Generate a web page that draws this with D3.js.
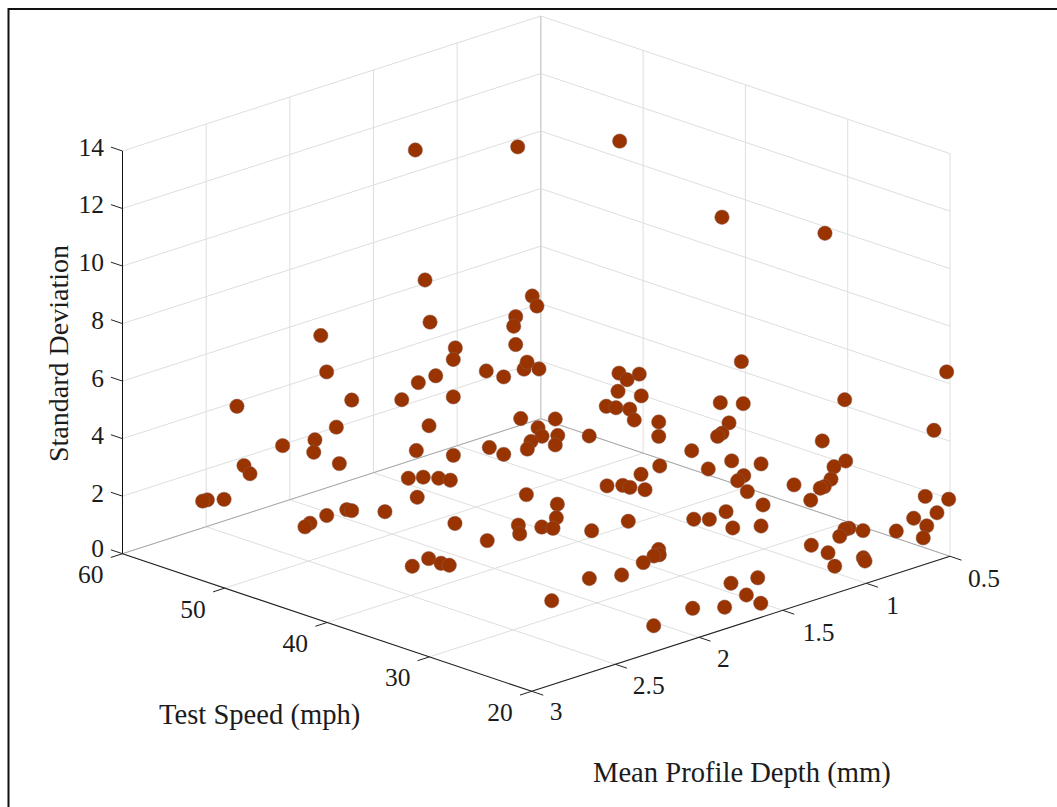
<!DOCTYPE html>
<html><head><meta charset="utf-8">
<style>html,body{margin:0;padding:0;background:#fff}svg{display:block}text{font-family:"Liberation Serif","Times New Roman",serif;fill:#1c1c1c}</style>
<script src="https://cdn.jsdelivr.net/npm/d3@7/dist/d3.min.js"></script>
</head><body><svg id="c" width="1057" height="807"></svg>
<script>
const speedTicks=[60,50,40,30,20];
const depthTicks=[3,2.5,2,1.5,1,0.5];
const depthLabels=["3","2.5","2","1.5","1","0.5"];
const sdTicks=[0,2,4,6,8,10,12,14];
const speed=[60,60,50,40,30,20,60,60,60,60,60,60,60,60,60,60,60,60,60,60,50,50,50,50,50,60,60,60,60,60,60,60,60,60,60,50,50,50,50,50,50,50,40,40,60,60,60,60,60,60,60,60,60,60,60,50,50,50,50,50,50,50,50,50,40,40,40,40,40,40,40,40,40,30,40,40,40,40,40,40,50,40,40,40,50,50,50,50,50,50,50,50,50,40,30,40,40,20,40,40,40,30,30,40,30,40,30,30,30,30,40,40,30,30,30,30,30,30,30,30,20,20,20,20,20,20,20,20,20,20,20,20,20,20,20,20,20,20,20,20,20,40,40,40,40,30,30,30,30,30,30,30,20,20];
const depth=[1.25,.638,.64,.64,.636,.52,1.815,1.78,1.63,2.316,1.722,2.043,1.85,1.857,1.704,2.274,2.238,2.393,2.493,2.521,2.391,2.271,2.242,2.491,2.521,1.192,1.162,1.011,1.023,1.128,1.232,1.331,1.023,1.168,1.244,1.634,1.903,1.814,1.722,1.652,1.85,2.043,2.236,2.043,.551,.523,.65,.662,.65,.826,.722,.6,.582,.511,.62,1.025,1.128,1.104,1.01,1.025,1.17,1.192,1.419,1.333,1.809,1.624,1.63,1.857,1.849,1.717,1.65,1.419,1.2,1.42,1.327,1.233,1.19,1.1,1.124,1.012,.822,1.018,1.018,.821,.644,.596,.523,.65,.511,.72,.662,.58,.553,.524,.518,.65,.513,.596,.598,.64,.666,.652,.512,.582,1.018,.722,.582,.6,.64,.664,.51,.546,1.1,.821,.721,1.006,1.227,1.327,1.018,1.187,.648,.508,.578,.717,.639,.66,.821,1.02,1.104,1.128,1.159,1.329,1.229,1.189,1.018,1.008,1.649,1.809,1.717,1.631,1.847,2.491,2.393,2.319,2.27,1.63,1.626,1.658,1.722,2.044,1.851,2.269,2.038,2.271];
const sd=[10.75,9.71,11.11,9.66,10.29,6.45,5.36,4.03,2.77,3.84,2,1.96,1.8,1.38,.7,1.7,1.35,.75,.92,.93,1.38,1.36,1.27,1.3,1.23,6.12,4.6,3.42,3.04,2.67,2.63,2.22,1.74,1.01,.29,2.05,1.76,1.63,1.42,1.22,1,.86,2.01,1.05,4.36,3.96,3.83,3.52,2.86,2.27,1.87,1.91,2.12,1.75,.23,2.17,2.06,1.72,1.57,1.27,1.66,1.44,1.92,1.52,2.21,1.53,1.07,1.24,.92,.91,.74,.22,.14,1.82,1.61,1.45,1.3,1.05,1.63,1.71,1.2,3.25,2.75,1.88,3.05,2.73,2.79,2.43,2.01,2.04,1.88,1.68,1.25,4.42,4.28,3.23,2.94,4.56,2.43,2.15,2.09,3.1,2.14,1.08,2.99,1.06,2.07,1.67,1.49,1.48,.43,.32,2.18,1.89,1.17,1.54,1.72,1.64,.83,1.08,2.36,2,1.66,1.73,1.32,.94,1.48,1.87,2.11,2.12,1.93,1.94,1.49,.95,.92,.79,1.41,1.52,.94,.49,.76,1,1.08,.78,.62,1.16,.97,.99,.88,.93,.69,.58,1.08,.91];

const svg=d3.select("#c");
const ox=531.7, oy=691.3;
const sX=d3.scaleLinear().domain([20,60]).range([0,-409.2]);
const sY=d3.scaleLinear().domain([20,60]).range([0,-137.6]);
const dX=d3.scaleLinear().domain([3,0.5]).range([0,418.3]);
const dY=d3.scaleLinear().domain([3,0.5]).range([0,-135]);
const zY=d3.scaleLinear().domain([0,14]).range([0,-402.7]);
const px=(s,d)=>ox+sX(s)+dX(d);
const py=(s,d,z)=>oy+sY(s)+dY(d)+zY(z);
const seg=(a,b,col,w)=>svg.append("line")
  .attr("x1",px(a[0],a[1])).attr("y1",py(a[0],a[1],a[2]))
  .attr("x2",px(b[0],b[1])).attr("y2",py(b[0],b[1],b[2]))
  .attr("stroke",col).attr("stroke-width",w);
const grid="#dedede";

// frame, running past the right and bottom of the page
svg.append("rect").attr("x",8.5).attr("y",9).attr("width",1100).attr("height",900)
  .attr("fill","#fff").attr("stroke","#111").attr("stroke-width",2);

// floor grid
depthTicks.forEach(d=>seg([60,d,0],[20,d,0],grid,1));
speedTicks.forEach(s=>seg([s,3,0],[s,0.5,0],grid,1));
// wall grid
sdTicks.slice(1).forEach(z=>{seg([60,3,z],[60,0.5,z],grid,1);seg([60,0.5,z],[20,0.5,z],grid,1);});
depthTicks.slice(1,5).forEach(d=>seg([60,d,0],[60,d,14],grid,1));
speedTicks.slice(1).forEach(s=>seg([s,0.5,0],[s,0.5,14],grid,1));
seg([60,0.5,0],[60,0.5,14],"#d2d2d2",1.6);
// darker wall bases
seg([60,3,0],[60,0.5,0],"#a8a8a8",1);
seg([60,0.5,0],[20,0.5,0],"#a8a8a8",1);

// axes
seg([60,3,0],[60,3,14],"#111",1);
seg([60,3,0],[20,3,0],"#222",1.1);
seg([20,3,0],[20,0.5,0],"#222",1.1);

// ticks
const tl=1.13;
sdTicks.forEach(z=>seg([60,3,z],[60+tl,3,z],"#222",1));
speedTicks.forEach(s=>seg([s,3,0],[s,3+0.07,0],"#222",1));
depthTicks.forEach(d=>seg([20,d,0],[20-tl,d,0],"#222",1));

// tick labels
const tick=(t,x,y,a)=>svg.append("text").attr("x",x).attr("y",y).attr("text-anchor",a||"end").attr("font-size",25.5).text(t);
sdTicks.forEach(z=>tick(z,104,py(60,3,z)+(z===0?3.5:z>=10?4.5:5.5)));
speedTicks.forEach(s=>tick(s,px(s,3)-19,py(s,3,0)+29.5));
depthTicks.forEach((d,i)=>tick(depthLabels[i],px(20,d)+[18,17.5,18,20,20,18][i],py(20,d,0)+[29,29.5,30,31,30.5,31][i],"start"));

// axis titles
svg.append("text").attr("x",159).attr("y",723.7).attr("font-size",28.6).text("Test Speed (mph)");
svg.append("text").attr("x",593).attr("y",782).attr("font-size",28.6).text("Mean Profile Depth (mm)");
svg.append("text").attr("transform","translate(68,462) rotate(-90)").attr("font-size",28).text("Standard Deviation");

// points
svg.append("g").selectAll("circle").data(d3.range(speed.length)).join("circle")
  .attr("cx",i=>px(speed[i],depth[i]))
  .attr("cy",i=>py(speed[i],depth[i],sd[i]))
  .attr("r",7.2)
  .attr("fill","#993300").attr("stroke","#8a5f55").attr("stroke-width",0.5);
</script></body></html>
